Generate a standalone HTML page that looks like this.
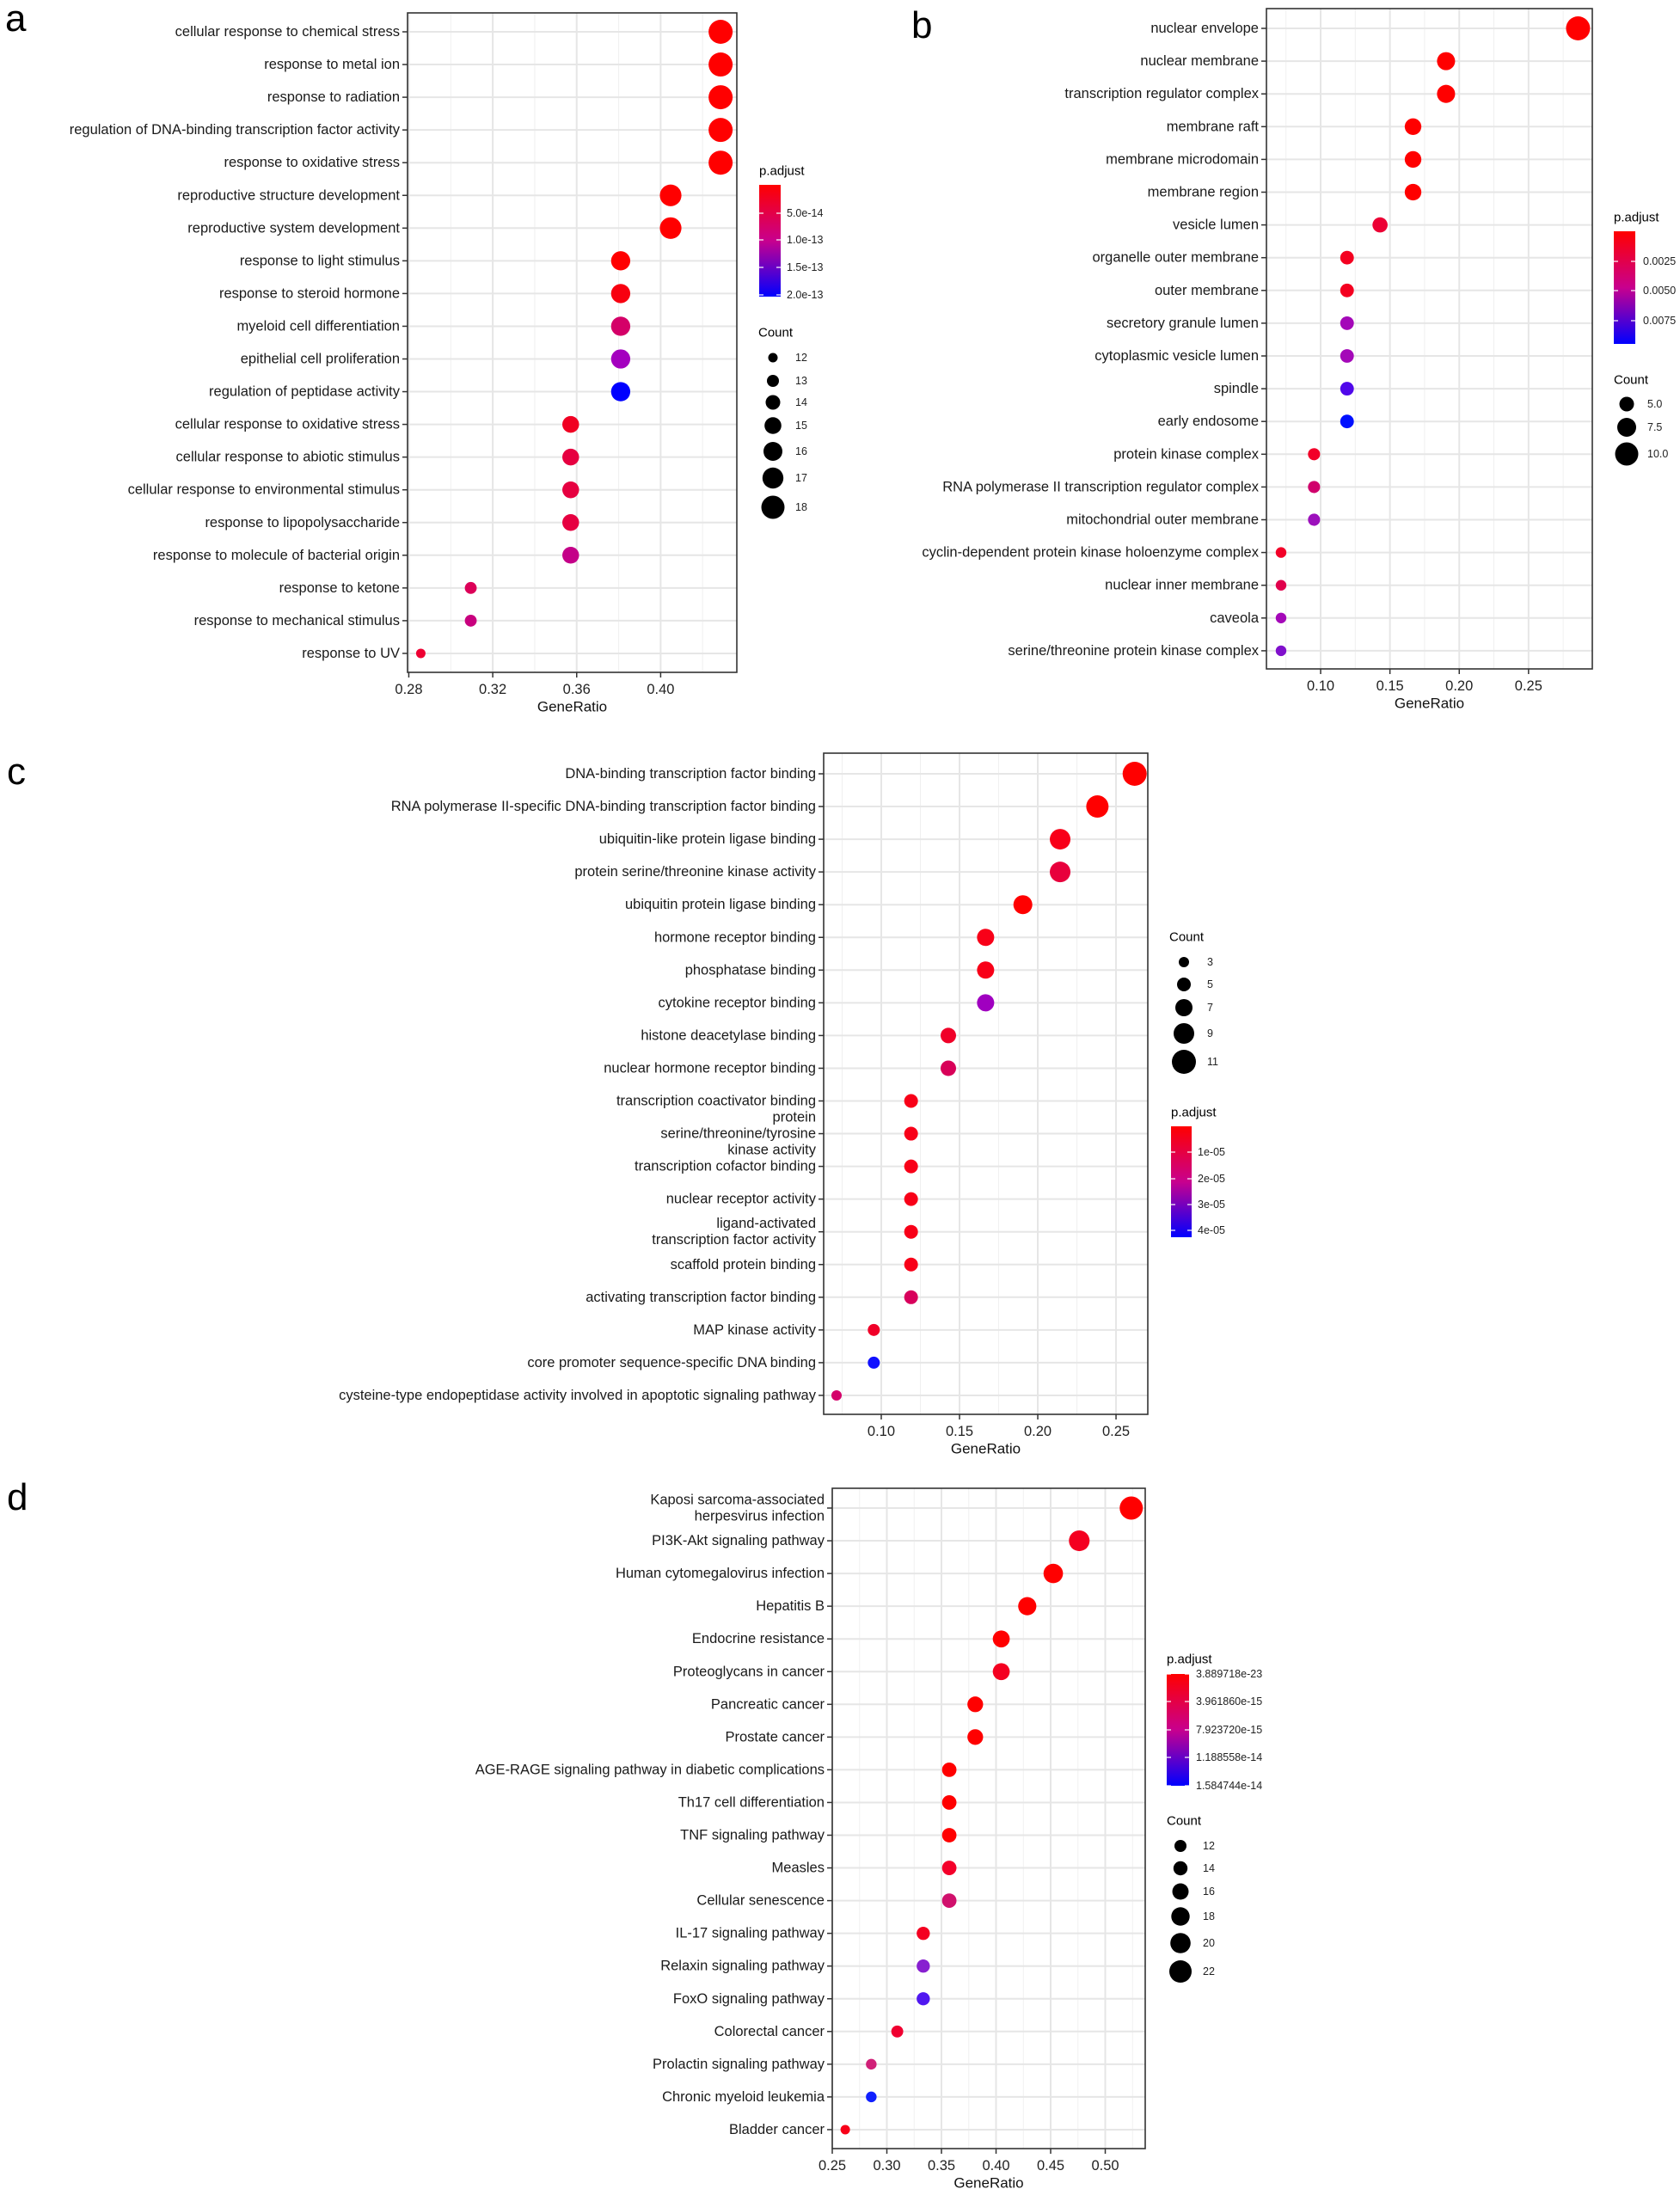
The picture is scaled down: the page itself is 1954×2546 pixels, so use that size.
<!DOCTYPE html>
<html><head><meta charset="utf-8">
<style>
html,body{margin:0;padding:0;background:#fff;}
svg{display:block;font-family:"Liberation Sans",Arial,sans-serif;}
</style></head>
<body>
<svg id="s" width="1954" height="2546" viewBox="0 0 1954 2546" xmlns="http://www.w3.org/2000/svg">
<defs>
<linearGradient id="g" x1="0" y1="0" x2="0" y2="1">
<stop offset="0" stop-color="#ff0000"/><stop offset="0.5" stop-color="#c8008e"/><stop offset="1" stop-color="#0000ff"/>
</linearGradient>
</defs>
<text x="6" y="36" font-size="44">a</text>
<text x="1060" y="44" font-size="44">b</text>
<text x="8" y="912" font-size="44">c</text>
<text x="8" y="1756" font-size="44">d</text>
</svg>
<script>
var S=document.getElementById('s'),NS='http://www.w3.org/2000/svg';
function el(t,a,txt){var e=document.createElementNS(NS,t);for(var k in a)e.setAttribute(k,a[k]);if(txt!==undefined)e.textContent=txt;S.appendChild(e);return e;}
function panel(p){
 var sx=function(v){return p.L+(v-p.x0)/(p.x1-p.x0)*(p.R-p.L);};
 p.minor.forEach(function(v){el('line',{x1:sx(v),x2:sx(v),y1:p.T,y2:p.B,stroke:'#f0f0f0','stroke-width':1});});
 p.ticks.forEach(function(v){el('line',{x1:sx(v),x2:sx(v),y1:p.T,y2:p.B,stroke:'#e6e6e6','stroke-width':2});});
 p.rows.forEach(function(r,i){var y=p.y0+i*p.dy;el('line',{x1:p.L,x2:p.R,y1:y,y2:y,stroke:'#e6e6e6','stroke-width':2});});
 el('rect',{x:p.L,y:p.T,width:p.R-p.L,height:p.B-p.T,fill:'none',stroke:'#333','stroke-width':1.6});
 p.rows.forEach(function(r,i){
  var y=p.y0+i*p.dy;
  el('line',{x1:p.L-6,x2:p.L,y1:y,y2:y,stroke:'#333','stroke-width':1.5});
  var lines=r[0].split('|');var n=lines.length;
  lines.forEach(function(t,j){el('text',{x:p.L-9,y:y+(j-(n-1)/2)*19,'font-size':16.5,'text-anchor':'end','dominant-baseline':'central',fill:'#1a1a1a'},t);});
  var rad=p.rmin+(r[1]-p.cmin)/(p.cmax-p.cmin)*(p.rmax-p.rmin);
  el('circle',{cx:sx(r[1]/p.den),cy:y,r:rad,fill:r[2]});
 });
 p.ticks.forEach(function(v,i){
  el('line',{x1:sx(v),x2:sx(v),y1:p.B,y2:p.B+6,stroke:'#333','stroke-width':1.5});
  el('text',{x:sx(v),y:p.B+20,'font-size':16.5,'text-anchor':'middle','dominant-baseline':'central',fill:'#222'},p.tl[i]);
 });
 el('text',{x:(p.L+p.R)/2,y:p.B+40,'font-size':17,'text-anchor':'middle','dominant-baseline':'central',fill:'#111'},'GeneRatio');
}
function cbar(x,y,w,h,tx,ty,labs,titleY){
 el('text',{x:x,y:titleY,'font-size':15,'dominant-baseline':'central'},'p.adjust');
 el('rect',{x:x,y:y,width:w,height:h,fill:'url(#g)'});
 ty.forEach(function(t,i){
  el('line',{x1:x,x2:x+5,y1:t,y2:t,stroke:'#fff','stroke-width':1.2});
  el('line',{x1:x+w-5,x2:x+w,y1:t,y2:t,stroke:'#fff','stroke-width':1.2});
  el('text',{x:tx,y:t,'font-size':12.5,'dominant-baseline':'central',fill:'#222'},labs[i]);
 });
}
function cleg(x,titleY,dx,lx,ys,rs,labs){
 el('text',{x:x,y:titleY,'font-size':15,'dominant-baseline':'central'},'Count');
 ys.forEach(function(y,i){el('circle',{cx:dx,cy:y,r:rs[i],fill:'#000'});el('text',{x:lx,y:y,'font-size':12.5,'dominant-baseline':'central',fill:'#222'},labs[i]);});
}
var R='#ff0000';
// panel a
panel({L:474,R:857,T:15,B:782,x0:0.2794,x1:0.4363,y0:37,dy:38.05,den:42,rmin:5.5,rmax:14,cmin:12,cmax:18,
 ticks:[0.28,0.32,0.36,0.40],tl:['0.28','0.32','0.36','0.40'],minor:[0.30,0.34,0.38,0.42],
 rows:[['cellular response to chemical stress',18,R],['response to metal ion',18,R],['response to radiation',18,R],
 ['regulation of DNA-binding transcription factor activity',18,R],['response to oxidative stress',18,R],
 ['reproductive structure development',17,R],['reproductive system development',17,R],['response to light stimulus',16,R],
 ['response to steroid hormone',16,'#f80010'],['myeloid cell differentiation',16,'#d40068'],['epithelial cell proliferation',16,'#a400bf'],
 ['regulation of peptidase activity',16,'#0000ff'],['cellular response to oxidative stress',15,'#f00022'],['cellular response to abiotic stimulus',15,'#e60040'],
 ['cellular response to environmental stimulus',15,'#e60040'],['response to lipopolysaccharide',15,'#e60040'],['response to molecule of bacterial origin',15,'#c40088'],
 ['response to ketone',13,'#dc0058'],['response to mechanical stimulus',13,'#c8007e'],['response to UV',12,'#ee0032']]});
cbar(883,215,25,130,915,[248,279,311,343],['5.0e-14','1.0e-13','1.5e-13','2.0e-13'],199);
cleg(882,387,899,925,[416,443,468,495,525,556,590],[5.5,7,8.5,9.8,11,12.2,13.5],['12','13','14','15','16','17','18']);
// panel b
panel({L:1473,R:1852,T:10,B:778,x0:0.0609,x1:0.2960,y0:33,dy:38.1,den:42,rmin:6.2,rmax:14,cmin:3,cmax:12,
 ticks:[0.10,0.15,0.20,0.25],tl:['0.10','0.15','0.20','0.25'],minor:[0.075,0.125,0.175,0.225,0.275],
 rows:[['nuclear envelope',12,R],['nuclear membrane',8,R],['transcription regulator complex',8,R],['membrane raft',7,R],
 ['membrane microdomain',7,R],['membrane region',7,R],['vesicle lumen',6,'#ec0034'],['organelle outer membrane',5,'#f40020'],
 ['outer membrane',5,'#f40020'],['secretory granule lumen',5,'#a408b8'],['cytoplasmic vesicle lumen',5,'#a408b8'],['spindle',5,'#5008ea'],
 ['early endosome',5,'#0010ff'],['protein kinase complex',4,'#f20028'],['RNA polymerase II transcription regulator complex',4,'#d0006c'],
 ['mitochondrial outer membrane',4,'#9c10bc'],['cyclin-dependent protein kinase holoenzyme complex',3,'#f20028'],['nuclear inner membrane',3,'#e0004c'],
 ['caveola',3,'#a408b8'],['serine/threonine protein kinase complex',3,'#8010cc']]});
cbar(1877,269,25,131,1911,[304,338,373],['0.0025','0.0050','0.0075'],253);
cleg(1877,442,1892,1916,[470,497,528],[8.5,11,13.5],['5.0','7.5','10.0']);
// panel c
panel({L:958,R:1335,T:876,B:1645,x0:0.0632,x1:0.2703,y0:900,dy:38.05,den:42,rmin:6,rmax:14,cmin:3,cmax:11,
 ticks:[0.10,0.15,0.20,0.25],tl:['0.10','0.15','0.20','0.25'],minor:[0.075,0.125,0.175,0.225],
 rows:[['DNA-binding transcription factor binding',11,R],['RNA polymerase II-specific DNA-binding transcription factor binding',10,R],
 ['ubiquitin-like protein ligase binding',9,'#f80018'],['protein serine/threonine kinase activity',9,'#e8003c'],['ubiquitin protein ligase binding',8,R],
 ['hormone receptor binding',7,'#f80018'],['phosphatase binding',7,'#f80018'],['cytokine receptor binding',7,'#a000c0'],
 ['histone deacetylase binding',6,'#f00028'],['nuclear hormone receptor binding',6,'#d80058'],['transcription coactivator binding',5,'#f80018'],
 ['protein|serine/threonine/tyrosine|kinase activity',5,'#f80018'],['transcription cofactor binding',5,'#f80018'],['nuclear receptor activity',5,'#f80018'],
 ['ligand-activated|transcription factor activity',5,'#f80018'],['scaffold protein binding',5,'#f80018'],['activating transcription factor binding',5,'#d8005c'],
 ['MAP kinase activity',4,'#f00028'],['core promoter sequence-specific DNA binding',4,'#1010ff'],
 ['cysteine-type endopeptidase activity involved in apoptotic signaling pathway',3,'#d4006a']]});
cleg(1360,1090,1377,1404,[1119,1145,1172,1202,1235],[6,8,10,12,14],['3','5','7','9','11']);
cbar(1362,1310,24,129,1393,[1340,1371,1401,1431],['1e-05','2e-05','3e-05','4e-05'],1294);
// panel d
panel({L:968,R:1332,T:1731,B:2499,x0:0.25,x1:0.5366,y0:1754,dy:38.05,den:42,rmin:5.5,rmax:13.5,cmin:11,cmax:22,
 ticks:[0.25,0.30,0.35,0.40,0.45,0.50],tl:['0.25','0.30','0.35','0.40','0.45','0.50'],minor:[0.275,0.325,0.375,0.425,0.475,0.525],
 rows:[['Kaposi sarcoma-associated|herpesvirus infection',22,R],['PI3K-Akt signaling pathway',20,'#f40020'],['Human cytomegalovirus infection',19,R],
 ['Hepatitis B',18,R],['Endocrine resistance',17,R],['Proteoglycans in cancer',17,'#f40020'],['Pancreatic cancer',16,R],['Prostate cancer',16,R],
 ['AGE-RAGE signaling pathway in diabetic complications',15,R],['Th17 cell differentiation',15,R],['TNF signaling pathway',15,R],
 ['Measles',15,'#f4002a'],['Cellular senescence',15,'#d0106c'],['IL-17 signaling pathway',14,'#f40020'],['Relaxin signaling pathway',14,'#8820d0'],
 ['FoxO signaling pathway',14,'#5018f0'],['Colorectal cancer',13,'#f00030'],['Prolactin signaling pathway',12,'#d02078'],
 ['Chronic myeloid leukemia',12,'#1020ff'],['Bladder cancer',11,'#f80018']]});
cbar(1357,1947,26,130,1391,[1947,1979,2012,2044,2077],['3.889718e-23','3.961860e-15','7.923720e-15','1.188558e-14','1.584744e-14'],1930);
cleg(1357,2118,1373,1399,[2147,2173,2200,2229,2260,2293],[7,8.2,9.5,10.7,11.8,13],['12','14','16','18','20','22']);
</script>
</body></html>
